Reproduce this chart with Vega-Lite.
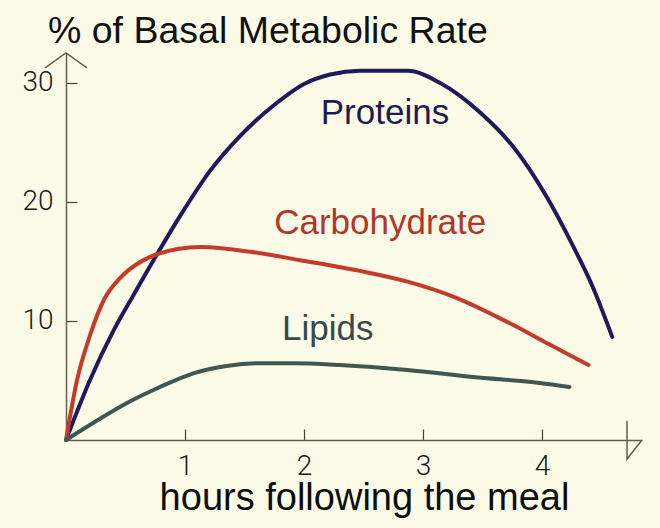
{
  "$schema": "https://vega.github.io/schema/vega-lite/v6.json",
  "width": 576,
  "height": 387,
  "autosize": {"type": "none"},
  "padding": {"left": 66, "top": 53, "right": 18, "bottom": 88},
  "background": "#fcfbe8",
  "title": {
    "text": "% of Basal Metabolic Rate",
    "anchor": "start",
    "frame": "group",
    "dx": -18,
    "offset": 10,
    "dy": 10,
    "fontSize": 37.5,
    "font": "Liberation Sans",
    "fontWeight": "normal",
    "color": "#111111"
  },
  "config": {
    "view": {"stroke": null},
    "font": "Liberation Sans"
  },
  "datasets": {
    "curves": [
      {"series": "Proteins", "h": 0, "pct": 0},
      {"series": "Proteins", "h": 0.2, "pct": 5.0},
      {"series": "Proteins", "h": 0.4, "pct": 9.2},
      {"series": "Proteins", "h": 0.563, "pct": 12.1},
      {"series": "Proteins", "h": 0.765, "pct": 15.6},
      {"series": "Proteins", "h": 0.983, "pct": 19.2},
      {"series": "Proteins", "h": 1.21, "pct": 22.6},
      {"series": "Proteins", "h": 1.46, "pct": 25.5},
      {"series": "Proteins", "h": 1.77, "pct": 28.3},
      {"series": "Proteins", "h": 2.0, "pct": 29.9},
      {"series": "Proteins", "h": 2.22, "pct": 30.7},
      {"series": "Proteins", "h": 2.47, "pct": 31.0},
      {"series": "Proteins", "h": 2.87, "pct": 31.0},
      {"series": "Proteins", "h": 3.14, "pct": 30.0},
      {"series": "Proteins", "h": 3.48, "pct": 27.5},
      {"series": "Proteins", "h": 3.76, "pct": 24.6},
      {"series": "Proteins", "h": 4.04, "pct": 20.4},
      {"series": "Proteins", "h": 4.26, "pct": 16.3},
      {"series": "Proteins", "h": 4.42, "pct": 13.0},
      {"series": "Proteins", "h": 4.59, "pct": 8.66},
      {"series": "Carbohydrate", "h": 0, "pct": 0},
      {"series": "Carbohydrate", "h": 0.092, "pct": 5.0},
      {"series": "Carbohydrate", "h": 0.202, "pct": 8.8},
      {"series": "Carbohydrate", "h": 0.32, "pct": 11.8},
      {"series": "Carbohydrate", "h": 0.454, "pct": 13.6},
      {"series": "Carbohydrate", "h": 0.6, "pct": 14.8},
      {"series": "Carbohydrate", "h": 0.765, "pct": 15.6},
      {"series": "Carbohydrate", "h": 1.13, "pct": 16.2},
      {"series": "Carbohydrate", "h": 1.55, "pct": 15.8},
      {"series": "Carbohydrate", "h": 1.97, "pct": 15.1},
      {"series": "Carbohydrate", "h": 2.47, "pct": 14.2},
      {"series": "Carbohydrate", "h": 2.87, "pct": 13.3},
      {"series": "Carbohydrate", "h": 3.29, "pct": 11.9},
      {"series": "Carbohydrate", "h": 3.71, "pct": 9.9},
      {"series": "Carbohydrate", "h": 4.04, "pct": 8.15},
      {"series": "Carbohydrate", "h": 4.39, "pct": 6.3},
      {"series": "Lipids", "h": 0, "pct": 0},
      {"series": "Lipids", "h": 0.227, "pct": 1.43},
      {"series": "Lipids", "h": 0.513, "pct": 3.11},
      {"series": "Lipids", "h": 0.79, "pct": 4.45},
      {"series": "Lipids", "h": 1.07, "pct": 5.6},
      {"series": "Lipids", "h": 1.35, "pct": 6.22},
      {"series": "Lipids", "h": 1.63, "pct": 6.45},
      {"series": "Lipids", "h": 1.91, "pct": 6.45},
      {"series": "Lipids", "h": 2.3, "pct": 6.3},
      {"series": "Lipids", "h": 2.87, "pct": 5.88},
      {"series": "Lipids", "h": 3.42, "pct": 5.29},
      {"series": "Lipids", "h": 3.98, "pct": 4.79},
      {"series": "Lipids", "h": 4.23, "pct": 4.45}
    ],
    "labels": [
      {"series": "Proteins", "label": "Proteins", "h": 2.68, "pct": 27.5},
      {"series": "Carbohydrate", "label": "Carbohydrate", "h": 2.64, "pct": 18.2},
      {"series": "Lipids", "label": "Lipids", "h": 2.2, "pct": 9.3}
    ],
    "arrows": [
      {"arrow": "y", "h": -0.176, "pct": 31.26},
      {"arrow": "y", "h": 0, "pct": 32.5},
      {"arrow": "y", "h": 0.176, "pct": 31.26},
      {"arrow": "x", "h": 4.714, "pct": 1.6},
      {"arrow": "x", "h": 4.84, "pct": 0},
      {"arrow": "x", "h": 4.714, "pct": -1.6}
    ]
  },
  "layer": [
    {
      "data": {"name": "arrows"},
      "mark": {"type": "line", "color": "#6b5a48", "strokeWidth": 1.5, "clip": false},
      "encoding": {
        "x": {
          "field": "h", "type": "quantitative",
          "scale": {"domain": [0, 4.84], "nice": false, "zero": false},
          "axis": {
            "values": [1, 2, 3, 4],
            "format": "d",
            "grid": false,
            "domainColor": "#6b5a48",
            "domainWidth": 1.5,
            "tickColor": "#4a3f35",
            "tickWidth": 1.2,
            "tickSize": -11,
            "labelPadding": 23,
            "labelFontSize": 28,
            "labelFontWeight": 300,
            "labelColor": "#1a1a1a",
            "labelFont": "Roboto",
            "title": "hours following the meal",
            "titleFontSize": 38,
            "titleFontWeight": "normal",
            "titleColor": "#0d0d0d",
            "titleFont": "Liberation Sans",
            "titleX": 298,
            "titleY": 69,
            "titleBaseline": "alphabetic"
          }
        },
        "y": {
          "field": "pct", "type": "quantitative",
          "scale": {"domain": [0, 32.5], "nice": false, "zero": false},
          "axis": {
            "values": [10, 20, 30],
            "grid": false,
            "domainColor": "#6b5a48",
            "domainWidth": 1.5,
            "tickColor": "#4a3f35",
            "tickWidth": 1.2,
            "tickSize": -11,
            "labelPadding": 24,
            "labelFontSize": 28,
            "labelFontWeight": 300,
            "labelColor": "#1a1a1a",
            "labelFont": "Roboto",
            "title": null
          }
        },
        "detail": {"field": "arrow"}
      }
    },
    {
      "data": {"name": "curves"},
      "mark": {"type": "line", "strokeWidth": 4, "interpolate": "monotone", "strokeCap": "round"},
      "encoding": {
        "x": {"field": "h", "type": "quantitative"},
        "y": {"field": "pct", "type": "quantitative"},
        "color": {
          "field": "series", "type": "nominal",
          "scale": {"domain": ["Proteins", "Carbohydrate", "Lipids"], "range": ["#1f1b5b", "#c43b2a", "#3f5750"]},
          "legend": null
        }
      }
    },
    {
      "data": {"name": "labels"},
      "mark": {"type": "text", "fontSize": 35, "font": "Liberation Sans", "baseline": "middle", "align": "center"},
      "encoding": {
        "x": {"field": "h", "type": "quantitative"},
        "y": {"field": "pct", "type": "quantitative"},
        "text": {"field": "label"},
        "color": {
          "field": "series", "type": "nominal",
          "scale": {"domain": ["Proteins", "Carbohydrate", "Lipids"], "range": ["#1d1c52", "#b5352b", "#37494a"]},
          "legend": null
        }
      }
    }
  ],
  "resolve": {"scale": {"color": "independent"}}
}
